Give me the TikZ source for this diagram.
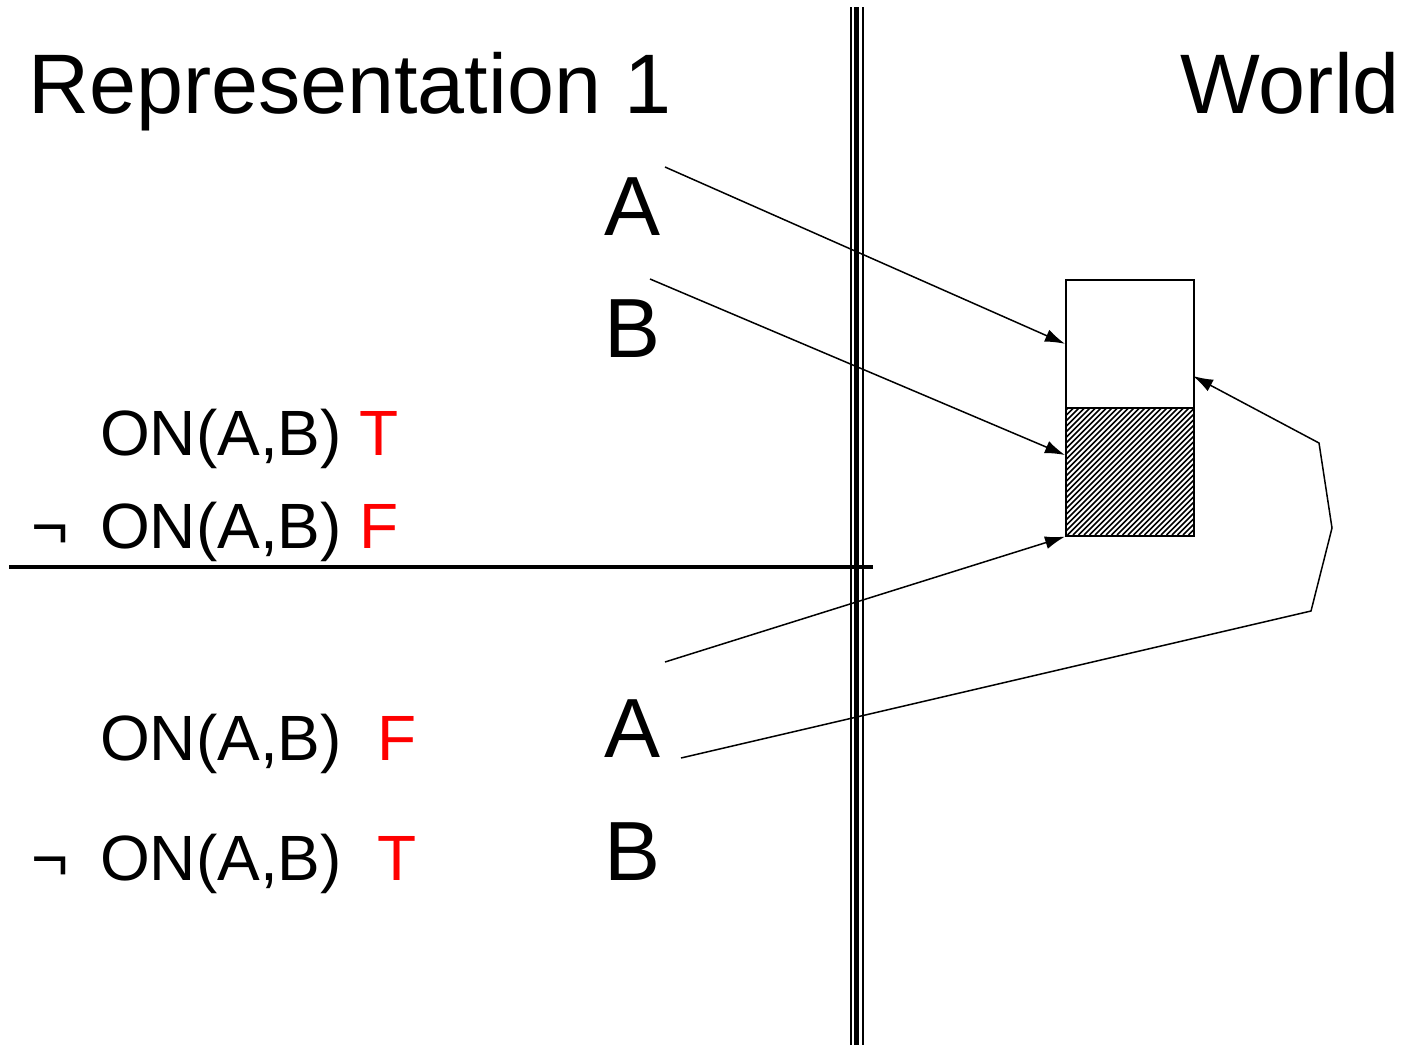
\documentclass[tikz,border=0pt]{standalone}
\usepackage{fontspec}
\setmainfont{Liberation Sans}
\usetikzlibrary{arrows.meta}
\definecolor{tred}{RGB}{255,0,0}
\begin{document}
\begin{tikzpicture}[x=1pt,y=-1pt,
  bigtxt/.style={inner sep=0pt,font=\fontsize{84.5}{90}\selectfont},
  lettxt/.style={inner sep=0pt,font=\fontsize{84}{88}\selectfont},
  proptxt/.style={inner sep=0pt,font=\fontsize{64}{68}\selectfont},
  conn/.style={line width=1.5pt},
  arr/.style={conn,-{Latex[length=20pt,width=13pt]}},
  blockbox/.style={draw,line width=1.6pt,minimum width=128pt,minimum height=128pt,inner sep=0pt}]
\useasboundingbox (0,0) rectangle (1405,1045);
% separator
\draw[line width=2pt] (850.5,7) -- (850.5,1045);
\draw[line width=5pt] (856.5,7) -- (856.5,1045);
\draw[line width=2pt] (862.5,7) -- (862.5,1045);
\draw[line width=3.5pt] (9,567) -- (873,567);
% titles
\node[bigtxt,anchor=base west] (rep) at (28,113) {Representation 1};
\node[bigtxt,anchor=base east] (world) at (1400,113) {World};
% letters
\node[lettxt,anchor=base west] (a1) at (604,235) {A};
\node[lettxt,anchor=base west] (b1) at (604,357) {B};
\node[lettxt,anchor=base west] (a2) at (604,757) {A};
\node[lettxt,anchor=base west] (b2) at (604,880) {B};
% propositions
\node[proptxt,anchor=base west] (p1) at (100,455) {ON(A,B) \textcolor{tred}{T}};
\node[proptxt,anchor=base west] (n1) at (31,548) {¬};
\node[proptxt,anchor=base west] (p2) at (100,548) {ON(A,B) \textcolor{tred}{F}};
\node[proptxt,anchor=base west] (p3) at (100,760) {ON(A,B)\hspace{18pt} \textcolor{tred}{F}};
\node[proptxt,anchor=base west] (n2) at (31,880) {¬};
\node[proptxt,anchor=base west] (p4) at (100,880) {ON(A,B)\hspace{18pt} \textcolor{tred}{T}};
% blocks
\node[blockbox,anchor=north west] (top) at (1065,279) {};
\begin{scope}
\clip (1065,407) rectangle (1193,535);
\foreach \x in {930,935.5,...,1200}
  \draw[line width=1.6pt] (\x,535) -- (\x+128,407);
\end{scope}
\node[blockbox,anchor=north west] (bot) at (1065,407) {};
% connector coordinates
\coordinate (s1) at (665,167);
\coordinate (s2) at (650,279);
\coordinate (s3) at (665,662);
\coordinate (s4) at (681,758);
\coordinate (e2) at (1065,455);
\coordinate (e4) at (1193,376);
\coordinate (k1) at (1311,611);
\coordinate (k2) at (1332,528);
\coordinate (k3) at (1319,443);
\draw[arr] (s1) -- (top.west);
\draw[arr] (s2) -- (e2);
\draw[arr] (s3) -- (bot.south west);
\draw[arr,line join=miter] (s4) -- (k1) -- (k2) -- (k3) -- (e4);
\end{tikzpicture}
\end{document}
